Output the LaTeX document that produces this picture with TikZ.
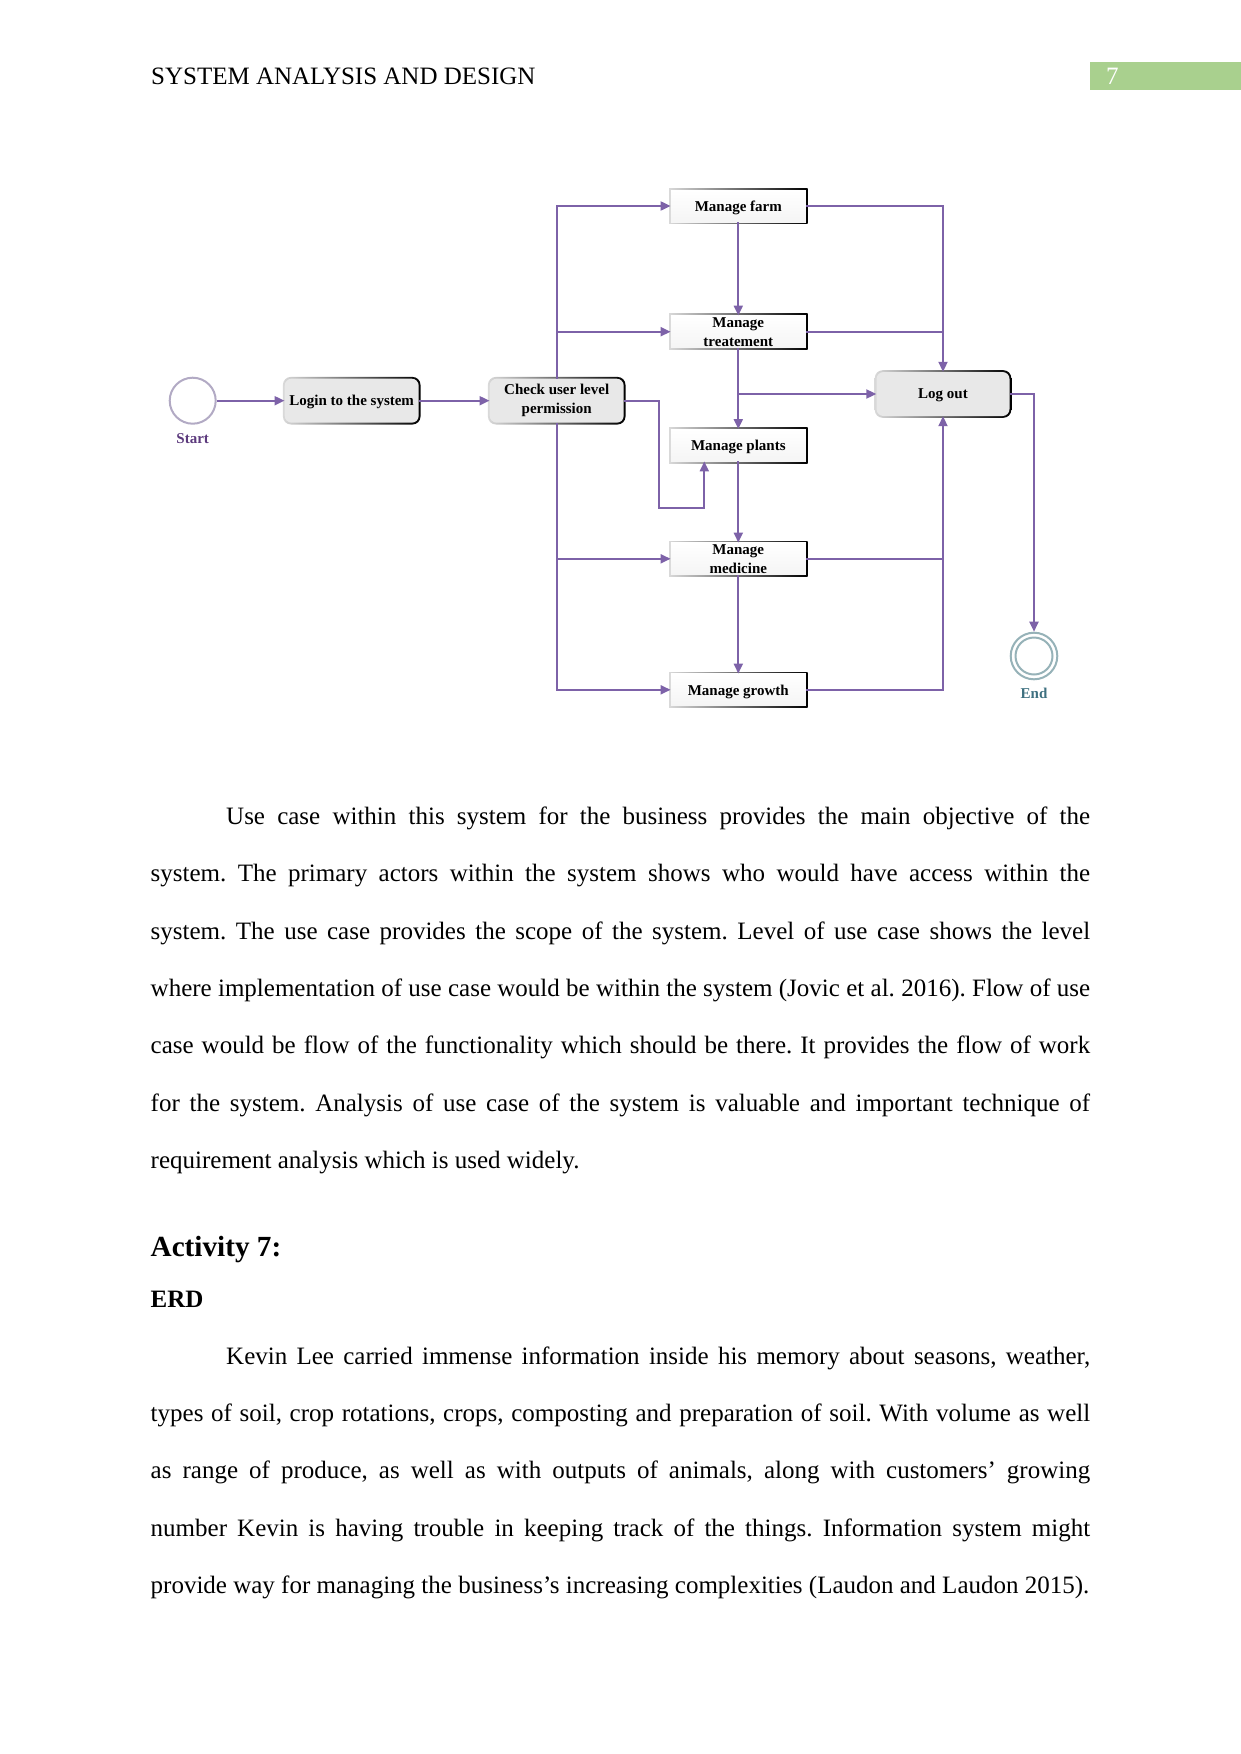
\documentclass[tikz,border=0pt]{standalone}
\usepackage{fontspec}
\setmainfont{Liberation Serif}
\frenchspacing
\usetikzlibrary{arrows.meta,backgrounds,calc}
\definecolor{flow}{RGB}{125,98,168}
\definecolor{startc}{RGB}{92,58,125}
\definecolor{endc}{RGB}{62,112,128}
\definecolor{ringc}{RGB}{150,178,184}
\definecolor{startring}{RGB}{178,170,196}
\definecolor{pagenum}{RGB}{169,208,142}
\definecolor{roundfill}{RGB}{232,232,232}
\begin{document}
\frenchspacing
\begin{tikzpicture}[x=1pt,y=-1pt,
  conn/.style={draw=flow, line width=2pt, -{Triangle[length=10pt,width=9pt]}},
  plain/.style={draw=flow, line width=2pt},
  lbl/.style={font=\fontsize{15}{19}\selectfont\bfseries, align=center, inner sep=0pt},
  oneline/.style={text depth=0pt},
  rbox/.style={lbl, rectangle, top color=white, bottom color=gray!8, minimum width=135pt, minimum height=32pt},
  rndbox/.style={lbl, rectangle, rounded corners=7pt, fill=roundfill, minimum width=134pt, minimum height=44pt},
  body/.style={font=\fontsize{25}{30}\selectfont\frenchspacing, inner sep=0pt, anchor=base west},
  border/.style={left color=gray!30, right color=black},
]
\useasboundingbox (0,0) rectangle (1241,1754);

% header
\node[body] (hdr) at (151,84) {SYSTEM ANALYSIS AND DESIGN};
\fill[pagenum] (1090,62) rectangle (1241,90);
\node[body, text=white] (pg) at (1106,84) {7};

% diagram nodes
\node[circle, draw=startring, line width=2pt, fill=white, minimum size=46pt, inner sep=0pt] (start) at (192.7,400.7) {};
\node[lbl, text=startc] (startlbl) at (192.7,438.3) {Start};
\node[rndbox, oneline] (login) at (351.7,400.7) {Login to the system};
\node[rndbox] (check) at (556.7,400.7) {Check user level\\permission};
\node[rbox, oneline] (farm) at (738.3,206) {Manage farm};
\node[rbox] (treat) at (738.3,331.7) {Manage\\treatement};
\node[rbox, oneline] (plants) at (738.3,445.2) {Manage plants};
\node[rbox] (med) at (738.3,558.8) {Manage\\medicine};
\node[rbox, oneline] (growth) at (738.3,689.8) {Manage growth};
\node[rndbox, oneline, minimum width=133pt] (logout) at (943,394) {Log out};
\node[circle, draw=ringc, line width=2pt, fill=white, minimum size=46.6pt, inner sep=0pt] (end) at (1034,656) {};
\draw[ringc, line width=2pt] (end.center) circle (18.5);
\node[lbl, text=endc] (endlbl) at (1034,693) {End};

% shaded borders
\begin{scope}[on background layer]
  \foreach \n in {farm,treat,plants,med,growth}
    \shade[border] ([shift={(-1.6,-1.6)}]\n.north west) rectangle ([shift={(1.6,1.6)}]\n.south east);
  \foreach \n in {login,check,logout}
    \shade[border, rounded corners=8pt] ([shift={(-1.6,-1.6)}]\n.north west) rectangle ([shift={(1.6,1.6)}]\n.south east);
\end{scope}

% connectors
\draw[conn] (start) -- (login);
\draw[conn] (login) -- (check);
\draw[conn] (check.north) |- (farm.west);
\draw[conn] (check.north) |- (treat.west);
\draw[conn] (check.south) |- (med.west);
\draw[conn] (check.south) |- (growth.west);
\coordinate (loopc) at (659.3,507.7);
\draw[conn] (check.east) -| (loopc) -| ([xshift=-34pt]plants.south);
\draw[conn] (farm) -- (treat);
\draw[conn] (treat) -- (plants);
\draw[conn] (plants) -- (med);
\draw[conn] (med) -- (growth);
\draw[conn] (treat.south |- logout.west) -- (logout.west);
\draw[conn] (farm.east) -| (logout.north);
\draw[plain] (treat.east) -- (treat.east -| logout.north);
\draw[conn] (growth.east) -| (logout.south);
\draw[plain] (med.east) -- (med.east -| logout.south);
\draw[conn] (logout.east) -| (end.north);

% paragraph 1
\node[body] (a1) at (226,824.3) {\makebox[864pt][s]{Use case within this system for the business provides the main objective of the}};
\node[body] (a2) at (150.5,881.7) {\makebox[939.5pt][s]{system. The primary actors within the system shows who would have access within the}};
\node[body] (a3) at (150.5,939.1) {\makebox[939.5pt][s]{system. The use case provides the scope of the system. Level of use case shows the level}};
\node[body] (a4) at (150.5,996.5) {\makebox[939.5pt][s]{where implementation of use case would be within the system (Jovic et al. 2016). Flow of use}};
\node[body] (a5) at (150.5,1053.9) {\makebox[939.5pt][s]{case would be flow of the functionality which should be there. It provides the flow of work}};
\node[body] (a6) at (150.5,1111.3) {\makebox[939.5pt][s]{for the system. Analysis of use case of the system is valuable and important technique of}};
\node[body] (a7) at (150.5,1168.7) {requirement analysis which is used widely.};

% headings
\node[body, font=\fontsize{29.2}{34}\selectfont\bfseries] (act) at (150.5,1256) {Activity 7:};
\node[body, font=\fontsize{25}{30}\selectfont\bfseries] (erd) at (150.5,1307.3) {ERD};

% paragraph 2
\node[body] (b1) at (226,1364) {\makebox[864pt][s]{Kevin Lee carried immense information inside his memory about seasons, weather,}};
\node[body] (b2) at (150.5,1421.4) {\makebox[939.5pt][s]{types of soil, crop rotations, crops, composting and preparation of soil. With volume as well}};
\node[body] (b3) at (150.5,1478.8) {\makebox[939.5pt][s]{as range of produce, as well as with outputs of animals, along with customers’ growing}};
\node[body] (b4) at (150.5,1536.2) {\makebox[939.5pt][s]{number Kevin is having trouble in keeping track of the things. Information system might}};
\node[body] (b5) at (150.5,1593.6) {provide way for managing the business’s increasing complexities (Laudon and Laudon 2015).};
\end{tikzpicture}
\end{document}
